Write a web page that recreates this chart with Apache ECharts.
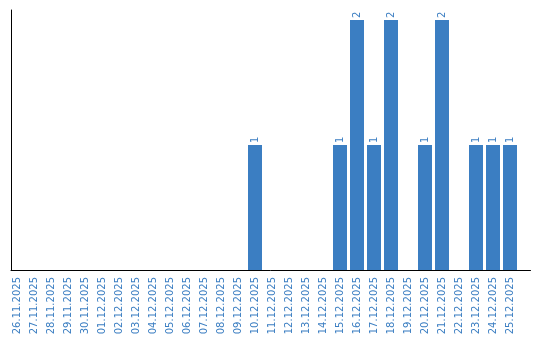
<!DOCTYPE html>
<html><head><meta charset="utf-8">
<script src="https://cdn.jsdelivr.net/npm/echarts@6/dist/echarts.min.js"></script>
<style>html,body{margin:0;padding:0;background:#fff}#c{width:540px;height:340px}</style>
</head><body><div id="c"></div>
<script>
const categories = ["26.11.2025","27.11.2025","28.11.2025","29.11.2025","30.11.2025","01.12.2025","02.12.2025","03.12.2025","04.12.2025","05.12.2025","06.12.2025","07.12.2025","08.12.2025","09.12.2025","10.12.2025","11.12.2025","12.12.2025","13.12.2025","14.12.2025","15.12.2025","16.12.2025","17.12.2025","18.12.2025","19.12.2025","20.12.2025","21.12.2025","22.12.2025","23.12.2025","24.12.2025","25.12.2025"];
const counts = [0,0,0,0,0,0,0,0,0,0,0,0,0,0,1,0,0,0,0,1,2,1,2,0,1,2,0,1,1,1];
const blue = '#3b7ec2';
const chart = echarts.init(document.getElementById('c'), null, {renderer:'canvas'});
chart.setOption({
  animation:false,
  grid:[
    {left:8.5, width:510, top:20, bottom:70},
    {left:11, right:9.5, top:10, bottom:70}
  ],
  xAxis:[
    {type:'category', gridIndex:0, data:categories,
     axisLine:{show:false}, axisTick:{show:false},
     axisLabel:{rotate:90, interval:0, margin:7, color:blue, fontFamily:'DejaVu Sans', fontSize:10}},
    {type:'value', gridIndex:1, min:0, max:1, axisLine:{show:true, lineStyle:{color:'#000', width:1}},
     axisTick:{show:false}, axisLabel:{show:false}, splitLine:{show:false}}
  ],
  yAxis:[
    {type:'value', gridIndex:0, min:0, max:2, show:false},
    {type:'value', gridIndex:1, min:0, max:1, axisLine:{show:true, lineStyle:{color:'#000', width:1}},
     axisTick:{show:false}, axisLabel:{show:false}, splitLine:{show:false}}
  ],
  series:[{
    type:'bar', xAxisIndex:0, yAxisIndex:0, data:counts.map(v=>v===0?null:v), barWidth:14,
    itemStyle:{color:blue},
    label:{show:true, position:'top', rotate:90, align:'left', verticalAlign:'middle', distance:2,
      color:blue, fontFamily:'DejaVu Sans', fontSize:10}
  }]
});
</script></body></html>
